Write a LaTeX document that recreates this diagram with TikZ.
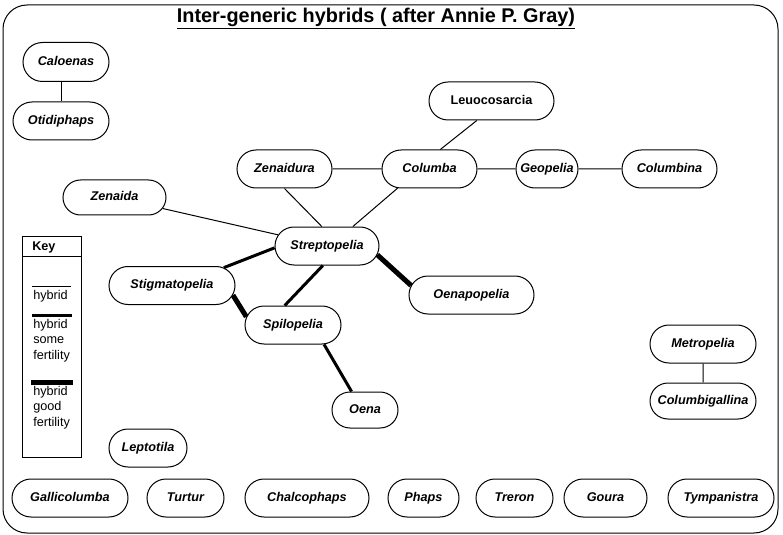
\documentclass[tikz,border=0pt]{standalone}
\usepackage{fontspec}
\setmainfont{Liberation Sans}
\usetikzlibrary{shapes.misc}

\begin{document}
\begin{tikzpicture}[x=0.75pt,y=-0.75pt,
  genus/.style={draw, rounded rectangle, line width=0.75pt, inner sep=0pt,
    text height=7pt, text depth=2pt,
    minimum height=28.5pt, font=\fontsize{9.5}{11}\selectfont\bfseries\itshape},
  keytext/.style={anchor=north west, inner sep=0pt, align=left,
    font=\fontsize{9.5}{11.6}\selectfont},
  hyb/.style={line width=0.75pt},
  hybsome/.style={line width=2.25pt},
  hybgood/.style={line width=3.75pt}]
\useasboundingbox (0,0) rectangle (783,535);
\draw[line width=0.75pt, rounded corners=18pt] (3,5) rectangle (778,533);

\node[anchor=base, inner sep=0pt, font=\fontsize{14.9}{17}\selectfont\bfseries] (title) at (376,22.5)
  {\underline{Inter-generic hybrids ( after Annie P. Gray)}};

\node[genus, minimum width=64.5pt, minimum height=29.25pt] (calo) at (66,62) {Caloenas};
\node[genus, minimum width=72pt] (otid) at (61,121) {Otidiphaps};
\node[genus, minimum width=93.75pt, font=\fontsize{9.5}{11}\selectfont\bfseries] (leuc) at (491.5,101) {Leuocosarcia};
\node[genus, minimum width=71.25pt] (zdura) at (284.5,169) {Zenaidura};
\node[genus, minimum width=71.25pt] (colu) at (429.5,169) {Columba};
\node[genus, minimum width=46.5pt] (geop) at (547,169) {Geopelia};
\node[genus, minimum width=71.25pt] (cbina) at (669.5,169) {Columbina};
\node[genus, minimum width=77.25pt, minimum height=26.25pt] (zaida) at (114.5,197.5) {Zenaida};
\node[genus, minimum width=78pt] (strep) at (327,246) {Streptopelia};
\node[genus, minimum width=94.5pt] (stig) at (172,285.5) {Stigmatopelia};
\node[genus, minimum width=72pt] (spil) at (293,325) {Spilopelia};
\node[genus, minimum width=93.75pt] (oenap) at (471.5,295) {Oenapopelia};
\node[genus, minimum width=49.5pt, minimum height=27pt] (oena) at (365,410) {Oena};
\node[genus, minimum width=79.5pt] (metr) at (703,344) {Metropelia};
\node[genus, minimum width=79.5pt, minimum height=27pt] (cgall) at (703,401) {Columbigallina};
\node[genus, minimum width=58.5pt] (lept) at (148,448) {Leptotila};

\node[genus, minimum width=87pt] (gall) at (70,498) {Gallicolumba};
\node[genus, minimum width=57.75pt] (turt) at (185.5,498) {Turtur};
\node[genus, minimum width=93pt] (chal) at (307,498) {Chalcophaps};
\node[genus, minimum width=53.25pt] (phap) at (423.5,498) {Phaps};
\node[genus, minimum width=57.75pt] (trer) at (514.5,498) {Treron};
\node[genus, minimum width=62.25pt] (gour) at (605.5,498) {Goura};
\node[genus, minimum width=79.5pt] (tymp) at (721,498) {Tympanistra};

\path[draw,hyb] (otid.north) -- (otid.north |- calo.south);
\path[draw,hyb] (leuc.233) -- (colu.61);
\path[draw,hyb] (zdura) -- (colu);
\path[draw,hyb] (colu) -- (geop);
\path[draw,hyb] (geop) -- (cbina);
\path[draw,hyb] (zdura.south) -- (strep.105);
\path[draw,hyb] (colu.211) -- (strep.37);
\path[draw,hyb] (zaida) -- (strep);
\path[draw,hybsome] (stig.19) -- (strep.182);
\path[draw,hybsome] (strep.258) -- (spil.113);
\path[draw,hybgood] (strep.-10) -- (oenap.171);
\path[draw,hybgood] (stig.-9) -- (spil.170);
\path[draw,hybsome] (spil.-32) -- (oena.126);
\path[draw,hyb] (metr) -- (cgall);

% key
\draw[line width=0.75pt] (22,236) rectangle (81,457);
\draw[line width=0.75pt] (22,256) -- (81,256);
\node[anchor=west, inner sep=0pt, font=\fontsize{9.5}{11}\selectfont\bfseries] (key) at (32,247) {Key};
\draw[hyb] (32,286) -- (71,286);
\node[keytext] (k1) at (33,290) {hybrid};
\draw[hybsome] (32,315) -- (72,315);
\node[keytext] (k2) at (33,319) {hybrid\\some\\fertility};
\draw[hybgood] (31,382) -- (73,382);
\node[keytext] (k3) at (33,386) {hybrid\\good\\fertility};
\end{tikzpicture}
\end{document}
